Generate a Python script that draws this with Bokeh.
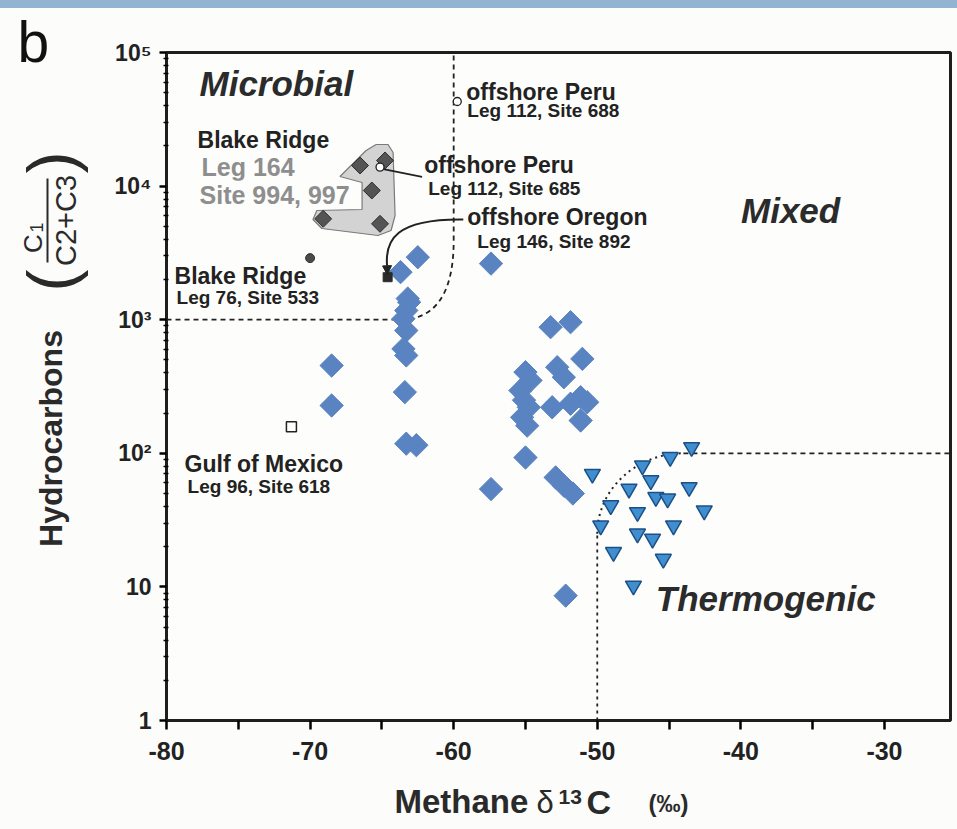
import math
from bokeh.plotting import figure
from bokeh.layouts import row, column
from bokeh.models import Range1d, FixedTicker, Label, Arrow, NormalHead
from bokeh.core.properties import value
from bokeh.embed import file_html
from bokeh.resources import INLINE

# ---------------- data ----------------
# blue diamonds (main data set)
diamond_x = [-62.5, -63.7, -57.4, -63.1, -63.2, -63.3, -63.5, -63.3, -63.5, -63.3,
             -68.5, -63.4, -68.5, -63.3, -62.6, -55.0, -57.4, -52.9, -52.3, -51.7,
             -53.25, -51.86, -51.04, -55.0, -54.65, -52.79, -52.33, -55.35, -55.1,
             -51.16, -50.7, -51.86, -53.14, -54.77, -55.23, -54.88, -51.16, -52.2]
diamond_y = [2935, 2270, 2630, 1352, 1440, 1172, 1016, 830, 605, 540,
             454, 287, 228, 118, 115, 93, 54, 66, 57, 50,
             879, 958, 509, 405, 351, 441, 371, 295, 250,
             263, 241, 235, 221, 221, 186, 161, 176, 8.6]

# blue inverted triangles (thermogenic group)
tri_x = [-43.43, -44.92, -46.85, -50.34, -46.27, -43.6, -47.79, -45.92, -45.1, -49.06,
         -42.55, -47.2, -49.76, -44.69, -47.2, -46.15, -48.87, -45.4, -47.48]
tri_y = [111, 93.5, 81, 70, 62.6, 55.7, 54.2, 46.9, 45.7, 40.7,
         37.3, 36.2, 28.8, 28.8, 25, 22.9, 18.2, 16.2, 10.2]

# Blake Ridge Leg 164 (dark diamonds)
blake164_x = [-66.52, -64.78, -65.7, -69.09, -65.13]
blake164_y = [14260, 15550, 9270, 5690, 5220]

# offshore Peru sites 688 / 685 (open circles)
peru_x = [-59.75, -65.13]
peru_y = [42970, 13870]

# Blake Ridge Leg 76 site 533 (dark dot)
site533_x = [-70.0]
site533_y = [2890]

# offshore Oregon site 892 (black square)
site892_x = [-64.6]
site892_y = [2080]

# Gulf of Mexico site 618 (open square)
site618_x = [-71.3]
site618_y = [158]

# shaded field of the Leg 164 data
field_x = [-67.92, -66.10, -65.40, -64.57, -64.22, -64.08, -64.36, -65.27,
           -69.18, -69.80, -69.53, -66.38, -66.38]
field_y = [11800, 18470, 20480, 20480, 17850, 6025, 4654, 4268,
           4815, 5623, 6566, 6682, 10640]

# axes
x_start, x_end = -80, -25.4
x_ticks = [-80, -70, -60, -50, -40, -30]
x_tick_labels = ["-80", "-70", "-60", "-50", "-40", "-30"]
x_minor = [-75, -65, -55, -45, -35]
y_ticks = [1, 10, 100, 1000, 10000, 100000]
y_tick_labels = ["1", "10", "10\u00b2", "10\u00b3", "10\u2074", "10\u2075"]
y_minor = [m * 10 ** k for k in range(0, 5) for m in range(2, 10)]

# field boundaries
microbial_h_x = [-80, -63.73]
microbial_h_y = [1000, 1000]
microbial_v_x = [-60, -60]
microbial_v_y = [3917, 100000]
thermo_v_x = [-50, -50]
thermo_v_y = [1, 25]
thermo_h_x = [-44, x_end]
thermo_h_y = [100, 100]

# ---------------- main figure ----------------
FONT = "Liberation Sans"
INK = "#222222"
PAGE = "#fcfcfa"
PX_PER_DECADE = 668 / 5.0   # frame height / number of decades
BASE_SHIFT = 0.35           # em offset of the rendered alphabetic baseline

p = figure(width=849, height=770,
           x_range=Range1d(x_start, x_end), y_range=Range1d(1, 1e5),
           y_axis_type="log", output_backend="svg", toolbar_location=None,
           title_location=None, frame_align=False,
           min_border_left=63, min_border_right=2, min_border_top=44,
           min_border_bottom=58,
           background_fill_color="#fdfdfb", border_fill_color=PAGE,
           outline_line_color="#1e1e1e", outline_line_width=3)
p.grid.visible = False

# x axis
p.xaxis.ticker = FixedTicker(ticks=x_ticks, minor_ticks=x_minor)
p.xaxis.major_label_overrides = dict(zip(x_ticks, x_tick_labels))
p.xaxis.axis_line_width = 3
p.xaxis.axis_line_color = "#1e1e1e"
p.xaxis.major_tick_line_width = 2.5
p.xaxis.minor_tick_line_width = 2.5
p.xaxis.major_tick_out = 9
p.xaxis.major_tick_in = 0
p.xaxis.minor_tick_out = 9
p.xaxis.minor_tick_in = 0
p.xaxis.major_label_standoff = 12
p.xaxis.major_label_text_font = FONT
p.xaxis.major_label_text_font_style = "bold"
p.xaxis.major_label_text_font_size = "25px"
p.xaxis.major_label_text_color = INK

# y axis
p.yaxis.ticker = FixedTicker(ticks=y_ticks, minor_ticks=y_minor)
p.yaxis.major_label_overrides = dict(zip(y_ticks, y_tick_labels))
p.yaxis.axis_line_width = 3
p.yaxis.axis_line_color = "#1e1e1e"
p.yaxis.major_tick_line_width = 2.5
p.yaxis.minor_tick_line_width = 1.5
p.yaxis.major_tick_out = 7
p.yaxis.major_tick_in = 0
p.yaxis.minor_tick_out = 3
p.yaxis.minor_tick_in = 2
p.yaxis.major_label_standoff = 8
p.yaxis.major_label_text_font = FONT
p.yaxis.major_label_text_font_style = "bold"
p.yaxis.major_label_text_font_size = "23px"
p.yaxis.major_label_text_color = INK

# shaded field
p.patch(field_x, field_y, fill_color="#d3d3d3", line_color="#7a7a7a", line_width=1.2)

# boundaries
p.line(microbial_h_x, microbial_h_y, line_dash="5 4", line_width=1.8, line_color=INK)
p.line(microbial_v_x, microbial_v_y, line_dash="5 4", line_width=1.8, line_color=INK)
p.bezier(x0=[-63.73], y0=[1000], cx0=[-61.63], cy0=[1000],
         cx1=[-60], cy1=[1393], x1=[-60], y1=[3917],
         line_dash="5 4", line_width=1.8, line_color=INK)
p.line(thermo_v_x, thermo_v_y, line_dash="3 4", line_width=1.8, line_color=INK)
p.bezier(x0=[-50], y0=[25], cx0=[-50], cy0=[53.7],
         cx1=[-47.28], cy1=[100], x1=[-44], y1=[100],
         line_dash="2 4", line_width=2, line_color=INK)
p.line(thermo_h_x, thermo_h_y, line_dash="5 4", line_width=1.8, line_color=INK)

# offshore Oregon arrow
p.bezier(x0=[-59.33], y0=[5623], cx0=[-64.08], cy0=[5710],
         cx1=[-64.78], cy1=[3917], x1=[-64.64], y1=[2547],
         line_width=2, line_color=INK)
p.add_layout(Arrow(end=NormalHead(size=9, fill_color=INK, line_color=INK),
                   x_start=-64.64, y_start=2547, x_end=-64.62, y_end=2170,
                   line_color=INK, line_width=2))
# offshore Peru 685 leader
p.line([-64.9, -62.2], [13400, 11720], line_width=1.6, line_color=INK)

# markers
p.scatter(diamond_x, diamond_y, marker="square", angle=math.pi / 4, size=16.5,
          fill_color="#5a83c1", line_color="#5a83c1", line_width=1)
p.scatter(tri_x, tri_y, marker="inverted_triangle", size=16,
          fill_color="#3f8fd0", line_color="#1d4f86", line_width=1.5)
p.scatter(blake164_x, blake164_y, marker="square", angle=math.pi / 4, size=12,
          fill_color="#545454", line_color="#2e2e2e", line_width=1)
p.scatter(peru_x, peru_y, marker="circle", size=8,
          fill_color="white", line_color=INK, line_width=1.3)
p.scatter(site533_x, site533_y, marker="circle", size=9,
          fill_color="#4a4a4a", line_color="#333333")
p.scatter(site892_x, site892_y, marker="square", size=9,
          fill_color="#2a2a2a", line_color="#2a2a2a")
p.scatter(site618_x, site618_y, marker="square", size=10,
          fill_color="white", line_color=INK, line_width=1.5)


def lab(x, y, text, fs, style="bold", color=INK, bg=None):
    # y is the baseline; compensate the renderer's offset
    y_adj = y * 10 ** (BASE_SHIFT * fs / PX_PER_DECADE)
    p.add_layout(Label(x=x, y=y_adj, text=text, text_font=FONT,
                       text_font_size="%dpx" % fs, text_font_style=style,
                       text_color=color, text_align="left",
                       text_baseline="alphabetic",
                       background_fill_color=bg))


# in-plot annotations
lab(-77.70, 47650, "Microbial", 35, "bold italic", "#2b2b2b")
lab(-77.84, 19110, "Blake Ridge", 23)
lab(-77.56, 12000, "Leg 164", 25, color="#8e8e8e")
lab(-77.70, 7410, "Site 994, 997", 25, color="#8e8e8e", bg="#fdfdfb")
lab(-59.12, 43700, "offshore Peru", 23)
lab(-59.05, 32620, "Leg 112, Site 688", 19)
lab(-62.05, 12430, "offshore Peru", 23)
lab(-61.77, 8500, "Leg 112, Site 685", 19)
lab(-59.05, 5072, "offshore Oregon", 23)
lab(-58.35, 3411, "Leg 146, Site 892", 19)
lab(-39.99, 5340, "Mixed", 35, "bold italic", "#2b2b2b")
lab(-79.44, 1834, "Blake Ridge", 23)
lab(-79.30, 1300, "Leg 76, Site 533", 19)
lab(-78.74, 71.8, "Gulf of Mexico", 23)
lab(-78.53, 50.0, "Leg 96, Site 618", 19)
lab(-45.92, 6.66, "Thermogenic", 35, "bold italic", "#2b2b2b")


# ---------------- side panels for titles (page-pixel coordinates) ----------------
def panel(w, h, x0, y0):
    f = figure(width=w, height=h, x_range=Range1d(x0, x0 + w),
               y_range=Range1d(y0 + h, y0), output_backend="svg",
               toolbar_location=None, title_location=None, frame_align=False,
               min_border=0, min_border_left=0, min_border_right=0,
               min_border_top=0, min_border_bottom=0,
               x_axis_location=None, y_axis_location=None,
               outline_line_color=None,
               background_fill_color=PAGE, border_fill_color=PAGE)
    f.grid.visible = False
    return f


def ptext(f, x, y, text, fs, style="bold", color="#2a2a2a", angle=0.0,
          align="left", baseline="alphabetic"):
    if baseline == "alphabetic":
        y = y - BASE_SHIFT * fs
    f.text(x=[x], y=[y], text=[text], text_font=value(FONT),
           text_font_size=value("%dpx" % fs), text_font_style=value(style),
           text_color=color, angle=angle, text_align=align,
           text_baseline=baseline)


half_pi = math.pi / 2
left = panel(95, 770, 8, 8)
ptext(left, 17, 61, "b", 57, "normal", "#111111")
ptext(left, 50, 438, "Hydrocarbons", 32, "bold", "#2a2a2a", half_pi, "center", "middle")
ptext(left, 50, 280, "(", 66, "normal", "#2a2a2a", half_pi, "center", "middle")
ptext(left, 50, 162, ")", 66, "normal", "#2a2a2a", half_pi, "center", "middle")
ptext(left, 32, 243, "C", 26, "normal", "#2a2a2a", half_pi, "center", "middle")
ptext(left, 36, 227, "1", 18, "normal", "#2a2a2a", half_pi, "center", "middle")
ptext(left, 65, 220, "C2+C3", 29, "normal", "#2a2a2a", half_pi, "center", "middle")
left.line([47, 47], [178, 262], line_width=2, line_color="#2a2a2a")

bottom = panel(941, 43, 8, 778)
ptext(bottom, 394, 813, "Methane", 33, "bold", "#2a2a2a")
ptext(bottom, 536, 813, "\u03b4", 31, "normal", "#2a2a2a")
ptext(bottom, 558, 804, "13", 21, "bold", "#2a2a2a")
ptext(bottom, 586, 813, "C", 34, "bold", "#2a2a2a")
ptext(bottom, 648, 811, "(\u2030)", 24, "bold", "#2a2a2a")

layout = column(row(left, p, spacing=0), bottom, spacing=0)

# page template: fixed 8px offset and the thin blue band along the top edge
template = None
try:
    from bokeh.core.templates import get_env
    template = get_env().from_string(
        '{% extends "file.html" %}'
        '{% block postamble %}<style>'
        'html,body{margin:0 !important;height:auto !important;}'
        'body{padding:8px 0 0 8px !important;background:transparent !important;}'
        'html{background-color:#fcfcfa !important;'
        'background-image:linear-gradient(#93b3d3,#93b3d3) !important;'
        'background-size:100% 8px !important;background-repeat:no-repeat !important;}'
        '</style>{% endblock %}')
except Exception:
    template = None

if template is not None:
    html = file_html(layout, INLINE, template=template)
else:
    html = file_html(layout, INLINE)
open("out.html", "w").write(html)
